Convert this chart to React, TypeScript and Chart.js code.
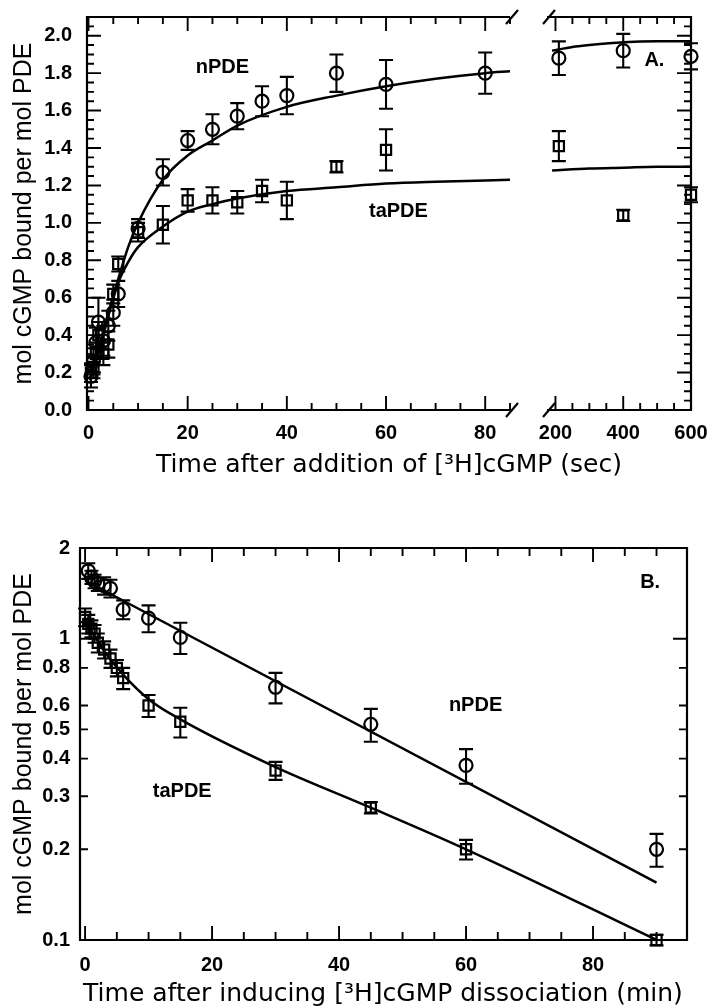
import React, { useEffect, useRef } from 'react';
import { Chart, registerables } from 'chart.js';

Chart.register(...registerables);

const FONT = '"Liberation Sans", Arial, Helvetica, sans-serif';
const WIDE = '"DejaVu Sans", "Liberation Sans", Arial, sans-serif';

// ---------------- Panel A (association, time in sec) ----------------
const A_NPDE_T = [0.5, 1, 1.5, 2, 3, 4, 5, 6, 10, 15, 20, 25, 30, 35, 40, 50, 60, 80];
const A_NPDE_Y = [0.18, 0.26, 0.36, 0.47, 0.37, 0.45, 0.52, 0.62, 0.97, 1.27, 1.44, 1.5, 1.57, 1.65, 1.68, 1.8, 1.74, 1.8];
const A_NPDE_E = [0.06, 0.07, 0.08, 0.13, 0.08, 0.08, 0.07, 0.07, 0.05, 0.07, 0.05, 0.08, 0.07, 0.08, 0.1, 0.1, 0.13, 0.11];

const A_TAPDE_T = [0.5, 1, 1.5, 2, 3, 4, 5, 6, 10, 15, 20, 25, 30, 35, 40, 50, 60];
const A_TAPDE_Y = [0.2, 0.23, 0.3, 0.4, 0.3, 0.35, 0.62, 0.78, 0.95, 0.99, 1.12, 1.12, 1.11, 1.17, 1.12, 1.3, 1.39];
const A_TAPDE_E = [0.05, 0.06, 0.06, 0.07, 0.06, 0.07, 0.05, 0.04, 0.05, 0.1, 0.06, 0.07, 0.06, 0.06, 0.1, 0.03, 0.11];

const A_NPDE_LATE_T = [210, 400, 600];
const A_NPDE_LATE_Y = [1.88, 1.92, 1.89];
const A_NPDE_LATE_E = [0.09, 0.09, 0.07];

const A_TAPDE_LATE_T = [210, 400, 600];
const A_TAPDE_LATE_Y = [1.41, 1.04, 1.15];
const A_TAPDE_LATE_E = [0.08, 0.03, 0.04];

// fitted curves
const A_NFIT_T = [0.3, 2, 4, 6, 8, 10, 15, 20, 25, 30, 40, 50, 60, 70, 80, 85];
const A_NFIT_Y = [0.16, 0.32, 0.52, 0.7, 0.87, 1.0, 1.23, 1.36, 1.44, 1.52, 1.62, 1.68, 1.73, 1.77, 1.8, 1.81];
const A_TFIT_T = [0.3, 2, 4, 6, 8, 10, 15, 20, 25, 30, 40, 50, 60, 70, 85];
const A_TFIT_Y = [0.17, 0.3, 0.5, 0.68, 0.79, 0.87, 0.98, 1.06, 1.1, 1.13, 1.17, 1.19, 1.21, 1.22, 1.23];
const A_NFIT_LATE_T = [190, 250, 300, 400, 500, 600];
const A_NFIT_LATE_Y = [1.92, 1.94, 1.95, 1.965, 1.97, 1.97];
const A_TFIT_LATE_T = [190, 300, 400, 500, 600];
const A_TFIT_LATE_Y = [1.28, 1.29, 1.295, 1.3, 1.3];

const A_X_LABELS = [0, 20, 40, 60, 80];
const A_X_LATE_LABELS = [200, 400, 600];
const A_Y_LABELS = [0, 0.2, 0.4, 0.6, 0.8, 1.0, 1.2, 1.4, 1.6, 1.8, 2.0];

// ---------------- Panel B (dissociation, time in min) ----------------
const B_NPDE_T = [0.5, 1, 1.5, 2, 3, 4, 6, 10, 15, 30, 45, 60, 90];
const B_NPDE_V = [1.68, 1.6, 1.55, 1.52, 1.5, 1.47, 1.25, 1.17, 1.01, 0.69, 0.52, 0.38, 0.2];
const B_NPDE_E = [0.1, 0.08, 0.08, 0.08, 0.1, 0.1, 0.09, 0.12, 0.12, 0.08, 0.065, 0.05, 0.025];

const B_TAPDE_T = [0, 0.5, 1, 1.5, 2, 3, 4, 5, 6, 10, 15, 30, 45, 60, 90];
const B_TAPDE_V = [1.18, 1.12, 1.08, 1.04, 0.97, 0.92, 0.86, 0.8, 0.74, 0.6, 0.53, 0.365, 0.275, 0.2, 0.1];
const B_TAPDE_E = [0.08, 0.08, 0.07, 0.07, 0.07, 0.06, 0.06, 0.05, 0.06, 0.05, 0.06, 0.025, 0.012, 0.015, 0.004];

const B_NFIT_T = [0, 90];
const B_NFIT_V = [1.56, 0.155];
const B_TFIT_T = [0, 3, 6, 10, 15, 30, 45, 60, 90];
const B_TFIT_V = [1.15, 0.91, 0.76, 0.63, 0.54, 0.375, 0.275, 0.2, 0.1];

const B_X_LABELS = [0, 20, 40, 60, 80];
const B_Y_LABELS = [0.1, 0.2, 0.3, 0.4, 0.5, 0.6, 0.8, 1, 2];
const B_Y_MAJOR = [0.1, 1];

const Y_TITLE = 'mol cGMP bound per mol PDE';
const A_X_TITLE = 'Time after addition of [³H]cGMP (sec)';
const B_X_TITLE = 'Time after inducing [³H]cGMP dissociation (min)';

// ---------------- helpers ----------------
const steps = (a: number, b: number, s: number) => {
  const out: number[] = [];
  for (let v = a; v <= b + 1e-9; v += s) out.push(Math.round(v * 1000) / 1000);
  return out;
};
const pts = (xs: number[], ys: number[]) => xs.map((x, i) => ({ x, y: ys[i] }));

const markerSet = (label: string, t: number[], y: number[], e: number[], style: string) => ({
  type: 'scatter',
  label,
  data: pts(t, y),
  errors: e,
  pointStyle: style,
  pointRadius: style === 'circle' ? 6.5 : 7.2,
  pointBorderWidth: 2.2,
  borderColor: '#000',
  pointBorderColor: '#000',
  backgroundColor: 'rgba(0,0,0,0)',
  pointBackgroundColor: 'rgba(0,0,0,0)',
  showLine: false,
  clip: false,
});

const fitSet = (label: string, t: number[], y: number[]) => ({
  type: 'line',
  label,
  data: pts(t, y),
  borderColor: '#000',
  borderWidth: 2.5,
  pointRadius: 0,
  fill: false,
  cubicInterpolationMode: 'monotone',
});

const errorBars = {
  id: 'errorBars',
  afterDatasetsDraw(chart: any) {
    const ctx = chart.ctx;
    chart.data.datasets.forEach((ds: any, i: number) => {
      if (!ds.errors) return;
      const meta = chart.getDatasetMeta(i);
      const ys = chart.scales[meta.yAxisID];
      ctx.save();
      ctx.strokeStyle = '#000';
      ctx.lineWidth = 2.1;
      ctx.beginPath();
      meta.data.forEach((pt: any, j: number) => {
        const e = ds.errors[j];
        const v = ds.data[j].y;
        if (!e) return;
        const x = pt.x;
        const hi = ys.getPixelForValue(v + e);
        const lo = ys.getPixelForValue(v - e);
        const cap = 7;
        ctx.moveTo(x, hi);
        ctx.lineTo(x, lo);
        ctx.moveTo(x - cap, hi);
        ctx.lineTo(x + cap, hi);
        ctx.moveTo(x - cap, lo);
        ctx.lineTo(x + cap, lo);
      });
      ctx.stroke();
      ctx.restore();
    });
  },
};

const frame = (o: any) => ({
  id: 'frame',
  afterDatasetsDraw(chart: any) {
    const { ctx, chartArea } = chart;
    const { left, right, top, bottom } = chartArea;
    const xs = chart.scales.x;
    const ys = chart.scales.y;
    const s = o.sides;
    ctx.save();
    ctx.strokeStyle = '#000';
    ctx.lineWidth = 2.2;
    ctx.beginPath();
    if (s.top) { ctx.moveTo(left, top); ctx.lineTo(right, top); }
    if (s.bottom) { ctx.moveTo(left, bottom); ctx.lineTo(right, bottom); }
    if (s.left) { ctx.moveTo(left, top - 1); ctx.lineTo(left, bottom + 1); }
    if (s.right) { ctx.moveTo(right, top - 1); ctx.lineTo(right, bottom + 1); }
    ctx.stroke();
    ctx.lineWidth = 1.9;
    ctx.beginPath();
    const xt = (vals: number[], len: number) => vals.forEach((v) => {
      const p = xs.getPixelForValue(v);
      if (p < left - 0.5 || p > right + 0.5) return;
      if (s.bottom) { ctx.moveTo(p, bottom); ctx.lineTo(p, bottom - len); }
      if (s.top) { ctx.moveTo(p, top); ctx.lineTo(p, top + len); }
    });
    const yt = (vals: number[], len: number) => vals.forEach((v) => {
      const p = ys.getPixelForValue(v);
      if (p < top - 0.5 || p > bottom + 0.5) return;
      if (s.left) { ctx.moveTo(left, p); ctx.lineTo(left + len, p); }
      if (s.right) { ctx.moveTo(right, p); ctx.lineTo(right - len, p); }
    });
    xt(o.xMinor, o.minorLen);
    xt(o.xMajor, o.majorLen);
    yt(o.yMinor, o.minorLen);
    yt(o.yMajor, o.majorLen);
    ctx.stroke();
    ctx.lineWidth = 2.2;
    ctx.beginPath();
    (o.breaks || []).forEach((side: string) => {
      const x = side === 'right' ? right + 2 : left + 2;
      [top, bottom].forEach((y) => {
        ctx.moveTo(x - 6, y + 7);
        ctx.lineTo(x + 6, y - 7);
      });
    });
    ctx.stroke();
    ctx.restore();
  },
});

const notes = (items: { text: string; x: number; y: number }[]) => ({
  id: 'notes',
  afterDraw(chart: any) {
    const { ctx } = chart;
    const xs = chart.scales.x;
    const ys = chart.scales.y;
    ctx.save();
    ctx.fillStyle = '#000';
    ctx.font = `bold 20px ${FONT}`;
    ctx.textAlign = 'center';
    ctx.textBaseline = 'middle';
    items.forEach((n) => ctx.fillText(n.text, xs.getPixelForValue(n.x), ys.getPixelForValue(n.y)));
    ctx.restore();
  },
});

const tickFont = { family: FONT, size: 20, weight: 'bold' };

const baseOptions = (padding: any) => ({
  responsive: false,
  animation: false,
  events: [],
  layout: { padding },
  plugins: { legend: { display: false }, tooltip: { enabled: false } },
});

const xAxis = (min: number, max: number, labels: number[], height: number, pad: number) => ({
  type: 'linear',
  min,
  max,
  grid: { display: false, drawTicks: false },
  border: { display: false },
  afterBuildTicks: (sc: any) => { sc.ticks = labels.map((v) => ({ value: v })); },
  afterFit: (sc: any) => { sc.height = height; sc.paddingLeft = 0; sc.paddingRight = 0; },
  ticks: { color: '#000', padding: pad, autoSkip: false, maxRotation: 0, font: tickFont },
});

const yTitle = { display: true, text: Y_TITLE, color: '#000', font: { family: FONT, size: 25 }, padding: { top: 9, bottom: 0 } };

function cfgALeft(): any {
  return {
    type: 'scatter',
    data: {
      datasets: [
        fitSet('nPDE fit', A_NFIT_T, A_NFIT_Y),
        fitSet('taPDE fit', A_TFIT_T, A_TFIT_Y),
        markerSet('nPDE', A_NPDE_T, A_NPDE_Y, A_NPDE_E, 'circle'),
        markerSet('taPDE', A_TAPDE_T, A_TAPDE_Y, A_TAPDE_E, 'rect'),
      ],
    },
    options: {
      ...baseOptions({ top: 17, right: 20, bottom: 0, left: 0 }),
      scales: {
        x: xAxis(-0.3, 85, A_X_LABELS, 70, 11),
        y: {
          type: 'linear',
          min: 0,
          max: 2.1,
          grid: { display: false, drawTicks: false },
          border: { display: false },
          afterBuildTicks: (sc: any) => { sc.ticks = A_Y_LABELS.map((v) => ({ value: v })); },
          afterFit: (sc: any) => { sc.width = 87; sc.paddingTop = 0; sc.paddingBottom = 0; },
          ticks: { color: '#000', padding: 15, autoSkip: false, font: tickFont, callback: (v: any) => Number(v).toFixed(1) },
          title: yTitle,
        },
      },
    },
    plugins: [
      errorBars,
      frame({
        sides: { left: true, top: true, bottom: true, right: false },
        xMajor: A_X_LABELS, xMinor: steps(0, 85, 5),
        yMajor: A_Y_LABELS, yMinor: steps(0, 2.1, 0.05),
        majorLen: 14, minorLen: 7, breaks: ['right'],
      }),
      notes([
        { text: 'nPDE', x: 27, y: 1.83 },
        { text: 'taPDE', x: 62.5, y: 1.06 },
      ]),
    ],
  };
}

function cfgARight(): any {
  return {
    type: 'scatter',
    data: {
      datasets: [
        fitSet('nPDE fit', A_NFIT_LATE_T, A_NFIT_LATE_Y),
        fitSet('taPDE fit', A_TFIT_LATE_T, A_TFIT_LATE_Y),
        markerSet('nPDE', A_NPDE_LATE_T, A_NPDE_LATE_Y, A_NPDE_LATE_E, 'circle'),
        markerSet('taPDE', A_TAPDE_LATE_T, A_TAPDE_LATE_Y, A_TAPDE_LATE_E, 'rect'),
      ],
    },
    options: {
      ...baseOptions({ top: 17, right: 17, bottom: 0, left: 17 }),
      scales: {
        x: xAxis(175, 600, A_X_LATE_LABELS, 70, 11),
        y: { type: 'linear', min: 0, max: 2.1, display: false },
      },
    },
    plugins: [
      errorBars,
      frame({
        sides: { left: false, top: true, bottom: true, right: true },
        xMajor: A_X_LATE_LABELS, xMinor: steps(200, 600, 50),
        yMajor: A_Y_LABELS, yMinor: steps(0, 2.1, 0.05),
        majorLen: 14, minorLen: 7, breaks: ['left'],
      }),
      notes([{ text: 'A.', x: 492, y: 1.87 }]),
    ],
  };
}

function cfgB(): any {
  return {
    type: 'scatter',
    data: {
      datasets: [
        fitSet('nPDE fit', B_NFIT_T, B_NFIT_V),
        fitSet('taPDE fit', B_TFIT_T, B_TFIT_V),
        markerSet('nPDE', B_NPDE_T, B_NPDE_V, B_NPDE_E, 'circle'),
        markerSet('taPDE', B_TAPDE_T, B_TAPDE_V, B_TAPDE_E, 'rect'),
      ],
    },
    options: {
      ...baseOptions({ top: 48, right: 21, bottom: 0, left: 0 }),
      scales: {
        x: xAxis(-0.8, 94.8, B_X_LABELS, 68, 13),
        y: {
          type: 'logarithmic',
          min: 0.1,
          max: 2,
          grid: { display: false, drawTicks: false },
          border: { display: false },
          afterBuildTicks: (sc: any) => { sc.ticks = B_Y_LABELS.map((v) => ({ value: v })); },
          afterFit: (sc: any) => { sc.width = 80; sc.paddingTop = 0; sc.paddingBottom = 0; },
          ticks: { color: '#000', padding: 10, autoSkip: false, font: tickFont, callback: (v: any) => String(v) },
          title: yTitle,
        },
      },
    },
    plugins: [
      errorBars,
      frame({
        sides: { left: true, top: true, bottom: true, right: true },
        xMajor: B_X_LABELS, xMinor: steps(0, 90, 5),
        yMajor: B_Y_MAJOR, yMinor: B_Y_LABELS,
        majorLen: 14, minorLen: 8,
      }),
      notes([
        { text: 'B.', x: 89, y: 1.54 },
        { text: 'nPDE', x: 61.5, y: 0.6 },
        { text: 'taPDE', x: 15.3, y: 0.31 },
      ]),
    ],
  };
}

const titleStyle = (cx: number, cy: number): React.CSSProperties => ({
  position: 'absolute',
  left: cx,
  top: cy - 15,
  transform: 'translateX(-50%)',
  whiteSpace: 'nowrap',
  fontFamily: WIDE,
  fontSize: 25,
  lineHeight: '30px',
  color: '#000',
});

export default function App() {
  const aL = useRef<HTMLCanvasElement>(null);
  const aR = useRef<HTMLCanvasElement>(null);
  const b = useRef<HTMLCanvasElement>(null);

  useEffect(() => {
    const charts = [
      new Chart(aL.current as any, cfgALeft()),
      new Chart(aR.current as any, cfgARight()),
      new Chart(b.current as any, cfgB()),
    ];
    return () => charts.forEach((c) => c.destroy());
  }, []);

  return (
    <div style={{ position: 'absolute', left: 0, top: 0, width: 708, height: 1008, background: '#fff', overflow: 'hidden' }}>
      <canvas ref={aL} width={530} height={480} style={{ position: 'absolute', left: 0, top: 0 }} />
      <canvas ref={aR} width={178} height={480} style={{ position: 'absolute', left: 530, top: 0 }} />
      <canvas ref={b} width={708} height={508} style={{ position: 'absolute', left: 0, top: 500 }} />
      <div style={titleStyle(389, 464)}>{A_X_TITLE}</div>
      <div style={titleStyle(383, 993)}>{B_X_TITLE}</div>
    </div>
  );
}
